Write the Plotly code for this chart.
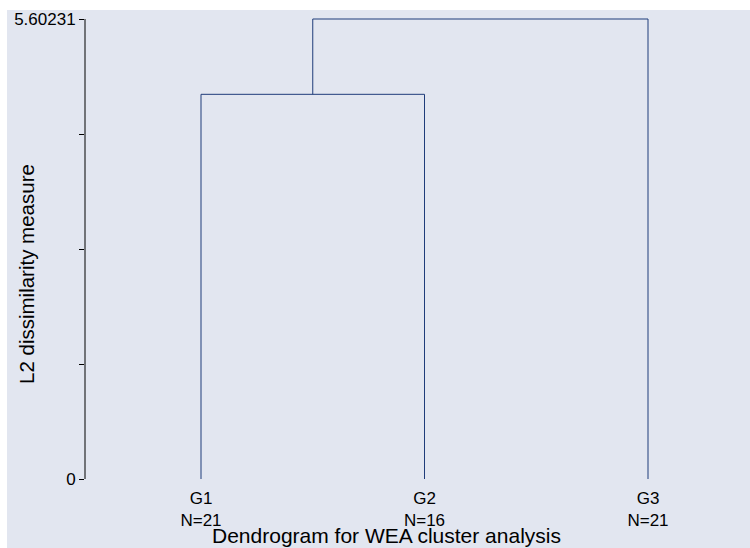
import plotly.graph_objects as go

# ---- data ----
leaf_labels = ["G1", "G2", "G3"]
leaf_sizes = [21, 16, 21]
# merges: (left node, right node, height); nodes 0..2 are leaves, 3.. are merged clusters
merge_left = [0, 3]
merge_right = [1, 2]
merge_height = [4.685, 5.60231]
y_ticks = [0, 1.400578, 2.801155, 4.201733, 5.60231]
y_tick_text = ["0", "", "", "", "5.60231"]

LINE = "#1f3c7a"
BG = "#e2e6f0"
FONT = "Liberation Sans, Arial, Helvetica, sans-serif"

# leaf x positions
pos = {i: float(i + 1) for i in range(len(leaf_labels))}
hgt = {i: 0.0 for i in range(len(leaf_labels))}

fig = go.Figure()
node = len(leaf_labels)
for a, b, h in zip(merge_left, merge_right, merge_height):
    xa, xb = pos[a], pos[b]
    fig.add_trace(go.Scatter(
        x=[xa, xa, xb, xb], y=[hgt[a], h, h, hgt[b]],
        mode="lines", line=dict(color=LINE, width=1),
        hoverinfo="skip", showlegend=False))
    pos[node] = (xa + xb) / 2
    hgt[node] = h
    node += 1

W, H = 750, 548
ml, mr, mt, mb = 85, 10, 10, 60
pw, ph = W - ml - mr, H - mt - mb
# pixel targets
y0_px, ytop_px = 479, 19
ppu = (y0_px - ytop_px) / y_ticks[-1]
y_lo = -(mt + ph - y0_px) / ppu
y_hi = y_ticks[-1] + (ytop_px - mt) / ppu
unit = 223.5
x_lo = 1 - (201 - ml) / unit
x_hi = x_lo + pw / unit

def px_to_paper_x(px):
    return (px - ml) / pw

def py_to_paper_y(py):
    return (mt + ph - py) / ph

fig.update_layout(
    width=W, height=H,
    margin=dict(l=ml, r=mr, t=mt, b=mb, pad=0),
    paper_bgcolor="white", plot_bgcolor=BG,
    font=dict(family=FONT, color="black", size=16),
    xaxis=dict(range=[x_lo, x_hi], showgrid=False, zeroline=False, showline=False,
               tickvals=[pos[i] for i in range(len(leaf_labels))],
               ticktext=[f"{l}<br>N={n}" for l, n in zip(leaf_labels, leaf_sizes)],
               ticks="", tickfont=dict(size=17, color="black"),
               ticklabelstandoff=-2),
    yaxis=dict(range=[y_lo, y_hi], showgrid=False, zeroline=False, showline=False,
               tickvals=y_ticks, ticktext=y_tick_text, ticks="outside", ticklen=5,
               tickwidth=1, tickcolor="black", tickfont=dict(size=17, color="black")),
    shapes=[
        dict(type="rect", xref="paper", yref="paper", layer="below",
             x0=px_to_paper_x(7), x1=px_to_paper_x(750),
             y0=py_to_paper_y(548), y1=py_to_paper_y(10),
             fillcolor=BG, line=dict(width=0)),
        dict(type="line", xref="paper", yref="y", x0=0, x1=0,
             y0=y_ticks[0], y1=y_ticks[-1], line=dict(color="black", width=1)),
    ],
    annotations=[
        dict(text="Dendrogram for WEA cluster analysis", xref="paper", yref="paper",
             x=px_to_paper_x(386), y=py_to_paper_y(535), xanchor="center", yanchor="middle",
             showarrow=False, font=dict(size=21, color="black")),
        dict(text="L2 dissimilarity measure", xref="paper", yref="paper",
             x=px_to_paper_x(26), y=py_to_paper_y(274), xanchor="center", yanchor="middle",
             textangle=-90, showarrow=False, font=dict(size=20.5, color="black")),
    ],
)

fig.write_html(
    "out.html",
    config={"displayModeBar": False},
    post_script="document.body.style.margin='0';document.body.style.overflow='hidden';",
)
